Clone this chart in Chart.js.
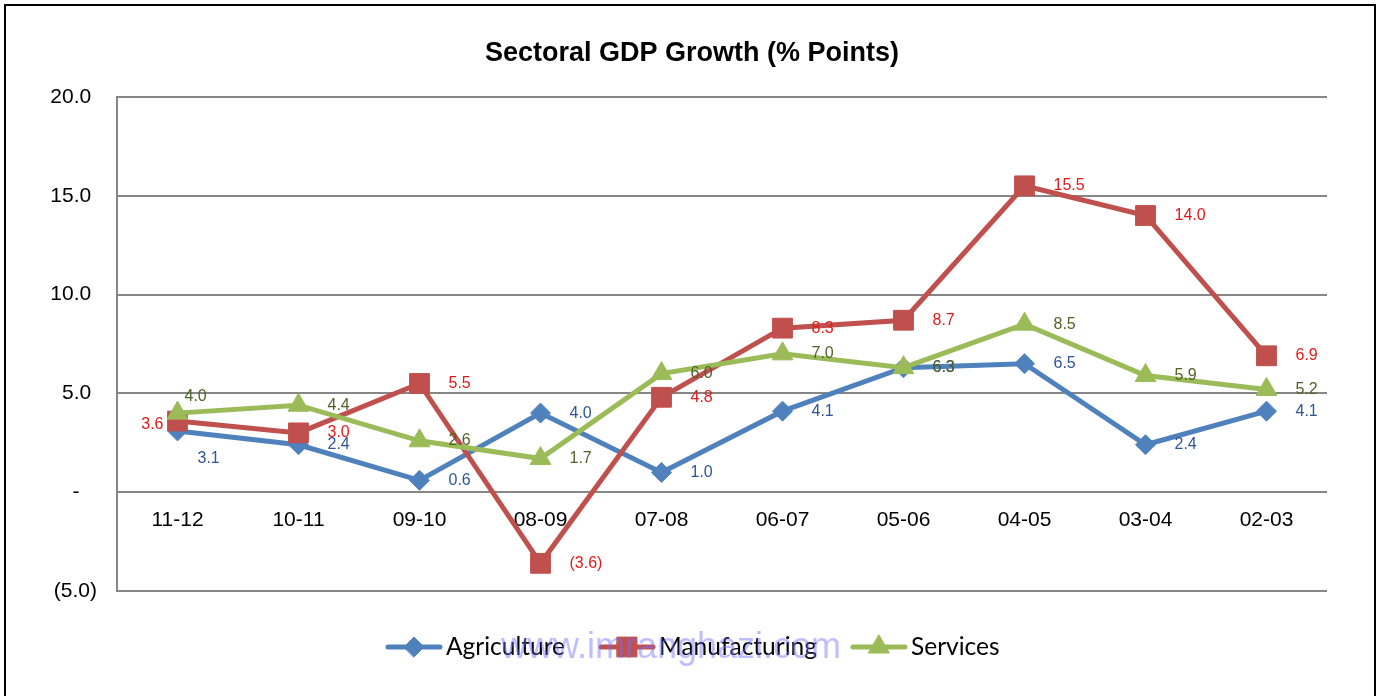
<!DOCTYPE html>
<html>
<head>
<meta charset="utf-8">
<script src="https://cdn.jsdelivr.net/npm/chart.js@4.4.0/dist/chart.umd.min.js"></script>
<style>
  html, body { margin: 0; padding: 0; background: #fff; overflow: hidden; }
  #frame { position: absolute; left: 4px; top: 4px; width: 1372px; height: 720px; border: 2px solid #000; box-sizing: border-box; }
  #wrap { position: absolute; left: 0; top: 0; width: 1384px; height: 696px; }
</style>
</head>
<body>
<div id="frame"></div>
<div id="wrap"><canvas id="chart"></canvas></div>
<script>
// data
const years = ['11-12', '10-11', '09-10', '08-09', '07-08', '06-07', '05-06', '04-05', '03-04', '02-03'];
const agriculture = [3.1, 2.4, 0.6, 4.0, 1.0, 4.1, 6.3, 6.5, 2.4, 4.1];
const manufacturing = [3.6, 3.0, 5.5, -3.6, 4.8, 8.3, 8.7, 15.5, 14.0, 6.9];
const services = [4.0, 4.4, 2.6, 1.7, 6.0, 7.0, 6.3, 8.5, 5.9, 5.2];
const yMin = -5, yMax = 20, yStep = 5;

const FONT = '"Liberation Sans", Arial, sans-serif';
const lineColors = ['#4F81BD', '#C0504D', '#9BBB59'];
const labelColors = ['#2F5597', '#E01B1B', '#4F6228'];

function fmt(v) {
  return v < 0 ? '(' + (-v).toFixed(1) + ')' : v.toFixed(1);
}

// a few labels sit somewhere other than to the right of their point
const labelNudge = {
  '0:0': { dx: 20, dy: 28, align: 'left' },
  '1:0': { dx: -14, dy: 4, align: 'right' },
  '2:0': { dx: 7, dy: -17, align: 'left' }
};

const dataLabels = {
  id: 'dataLabels',
  afterDatasetsDraw(chart) {
    const ctx = chart.ctx;
    ctx.save();
    ctx.font = '16px ' + FONT;
    ctx.textBaseline = 'middle';
    chart.data.datasets.forEach((ds, di) => {
      const meta = chart.getDatasetMeta(di);
      ctx.fillStyle = labelColors[di];
      meta.data.forEach((pt, i) => {
        const n = labelNudge[di + ':' + i] || { dx: 29, dy: 0, align: 'left' };
        ctx.textAlign = n.align;
        ctx.fillText(fmt(ds.data[i]), pt.x + n.dx, pt.y + n.dy);
      });
    });
    ctx.restore();
  }
};

const legendAndMark = {
  id: 'legendAndMark',
  afterDraw(chart) {
    const ctx = chart.ctx;
    ctx.save();
    let x = 388;
    const y = 647;
    ctx.font = '24.5px Lato, sans-serif';
    ctx.textBaseline = 'middle';
    ctx.textAlign = 'left';
    chart.data.datasets.forEach((ds) => {
      ctx.strokeStyle = ds.borderColor;
      ctx.lineWidth = 5;
      ctx.lineCap = 'round';
      ctx.beginPath();
      ctx.moveTo(x, y);
      ctx.lineTo(x + 52, y);
      ctx.stroke();
      ctx.fillStyle = ds.borderColor;
      ctx.lineWidth = 1;
      Chart.helpers.drawPoint(ctx, { pointStyle: ds.pointStyle, radius: ds.pointRadius, rotation: 0, borderWidth: 1 }, x + 26, y);
      ctx.fillStyle = '#000';
      ctx.fillText(ds.label, x + 58, y);
      x += 58 + ctx.measureText(ds.label).width + 36;
    });
    ctx.font = '36px ' + FONT;
    ctx.textAlign = 'center';
    ctx.fillStyle = 'rgba(110, 110, 255, 0.45)';
    ctx.fillText('www.imranghazi.com', 671, 648);
    ctx.restore();
  }
};

const chart = new Chart('chart', {
  type: 'line',
  data: {
    labels: years,
    datasets: [
      { label: 'Agriculture', data: agriculture, borderColor: lineColors[0], backgroundColor: lineColors[0],
        borderWidth: 5, pointStyle: 'rectRot', pointRadius: 10, pointBorderWidth: 1, order: 2 },
      { label: 'Manufacturing', data: manufacturing, borderColor: lineColors[1], backgroundColor: lineColors[1],
        borderWidth: 5, pointStyle: 'rect', pointRadius: 14, pointBorderWidth: 1, order: 1 },
      { label: 'Services', data: services, borderColor: lineColors[2], backgroundColor: lineColors[2],
        borderWidth: 5, pointStyle: 'triangle', pointRadius: 12, pointBorderWidth: 1, order: 0 }
    ]
  },
  options: {
    responsive: true,
    maintainAspectRatio: false,
    animation: false,
    layout: { padding: { left: 0, right: 0, top: 0, bottom: 105 } },
    plugins: {
      legend: { display: false },
      tooltip: { enabled: false },
      title: {
        display: true,
        text: 'Sectoral GDP Growth (% Points)',
        color: '#000',
        font: { family: FONT, size: 27, weight: 'bold' },
        padding: { top: 37, bottom: 27.5 }
      }
    },
    scales: {
      x: {
        position: { y: 0 },
        offset: true,
        grid: { display: false },
        border: { display: false },
        ticks: { color: '#000', font: { family: FONT, size: 21 }, padding: 7, maxRotation: 0 },
        afterFit(scale) { scale.height = 0; }
      },
      y: {
        min: yMin,
        max: yMax,
        grid: { color: '#868686', lineWidth: 2, drawTicks: false },
        border: { display: true, color: '#868686', width: 2 },
        ticks: {
          stepSize: yStep,
          color: '#000',
          font: { family: FONT, size: 21 },
          padding: 20,
          callback: v => v === 0 ? '-\u00a0\u00a0\u00a0' : v < 0 ? fmt(v) : fmt(v) + '\u00a0'
        },
        afterFit(scale) { scale.width = 117; }
      },
      // empty right-hand strip so the title stays centred on the whole canvas
      spacer: {
        type: 'linear',
        position: 'right',
        display: true,
        grid: { display: false, drawOnChartArea: false },
        border: { display: false },
        ticks: { display: false },
        afterFit(scale) { scale.width = 57; }
      }
    }
  },
  plugins: [dataLabels, legendAndMark]
});
</script>
</body>
</html>
